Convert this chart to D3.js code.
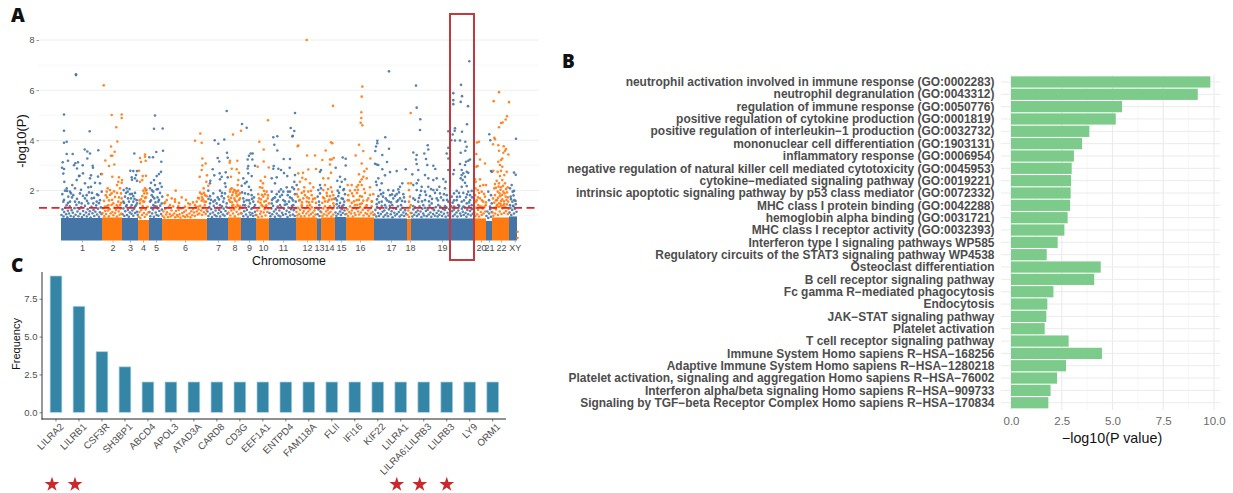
<!DOCTYPE html>
<html>
<head>
<meta charset="utf-8">
<script src="https://cdn.jsdelivr.net/npm/d3@7"></script>
<style>
  html, body { margin: 0; padding: 0; background: #fff; }
  svg { display: block; }
  text { font-family: "Liberation Sans", Arial, sans-serif; }
  .letter { font-family: "Open Sans", sans-serif; font-weight: 800; font-size: 19px; fill: #111; }
</style>
</head>
<body>
<svg id="canvas" width="1233" height="493"></svg>
<script>
// panel A - chromosome layout, genome position runs 0..456
let chrNames = ['1','2','3','4','5','6','7','8','9','10','11','12','13','14','15','16','17','18','19','20','21','22','XY']
let chrStarts = [0,41,61,77,88,101,146,167,180,195,208,235,256,260,274,285,313,346,350,413,425,431,448]
let chrEnds = [41,61,77,88,101,146,167,180,195,208,235,256,260,274,285,313,346,350,413,425,431,448,456]
let chrLabelPos = [21,51.5,69,82,95,124,157,173.5,188,202,222,246,258,268,280,299,330,349,381,420,428,440,453.7]
// top of the solid part of the cloud for each chromosome (thousands of points, too many to read one by one)
let bandTops = [0.9,0.92,0.9,0.82,0.9,0.86,0.9,0.92,0.9,0.88,0.9,0.92,0.88,0.92,0.94,0.92,0.88,0.86,0.88,0.88,0.78,0.92,0.96]
let threshold = 1.3

let bluePoints = [
  [15,6.6],[15,6.63],[3,5.03],[3,4.38],[3,3.9],[5.7,3.94],[5.7,3.45],[11.7,3.45],[1.7,3.12],[7,3.18],[14.3,3.08],[17,3.12],[13,3],[1,2.9],[3,2.85],[21.7,3],[16,2.87],[2.3,2.67],[23.7,3.63],[26.3,3.55],[29,3.47],[26.3,3.27],[28.7,4.36],[37.3,3.6],[31.7,2.98],[32,2.9],[22,2.68],[30,2.6],[37,2.55],[18.5,2.58],
  [1.3,1.85],[4,1.99],[5.7,2.08],[9,1.95],[12.3,1.81],[14,2.08],[15.7,2.41],[18,2.57],[11.3,2.21],[7.3,1.75],[2.3,1.55],[3.3,2.34],[24,2.28],[29,2.48],[30,2.14],[27.3,2.12],[34,2.3],[40,2.65],[39,2.28],[30.7,1.68],[24,1.68],[19,1.88],[25.7,1.81],[37.3,1.81],[39,1.61],[35.7,1.55],[40.7,1.95],[14,1.55],[9,1.55],[20.7,1.48],[27.3,1.48],[32.3,1.48],[5.7,1.41],
  [73.3,3.47],[69.3,2.78],[72.3,2.77],[76,2.77],[75,2.61],[70.7,2.52],[74,2.48],[76,2.38],[71,2.42],[65.7,2.08],[62.7,2.01],[66.7,1.95],[69,1.85],[72.3,1.77],[70,1.68],[64,1.75],[74,1.9],[62.3,1.55],[68,1.55],[72.3,1.55],[75.7,1.61],[70.7,1.41],[65.7,1.41],[74,1.35],
  [94,4.99],[93,4.46],[101.7,4.47],[88.3,3.32],[92,3.32],[95.3,3.53],[102,3.58],[100.3,3.14],[100,2.74],[98,2.65],[95.7,2.57],[93,2.41],[90,2.3],[94,2.21],[99,2.28],[100.7,2.14],[89,2.08],[92.3,1.95],[95.7,2.04],[90.7,1.81],[99,1.9],[101.3,1.75],[93.3,1.68],[89,1.55],[97.3,1.55],[100.7,1.48],[92.3,1.41],[95.7,1.35],
  [165.7,5.17],[153.7,4],[157.3,3.86],[163.3,4.03],[166,3.5],[156.7,3.29],[158.3,3.15],[166.7,3.3],[151.7,2.84],[158.7,2.68],[153.3,2.6],[160.7,2.54],[164.7,2.72],[166.7,2.52],[149.3,2.38],[159,2.44],[164,2.28],[164.7,2.14],[149,2.28],[147.3,1.99],[152.3,1.88],[159,1.99],[156.7,1.72],[164,1.88],[149,1.77],[160.7,1.77],[152.3,1.55],[155.7,1.48],[162.3,1.55],[149,1.48],[159,1.41],[165.7,1.48],
  [185.7,4.5],[181,4.65],[189.7,3.47],[191.7,3.47],[188,3.38],[186.7,3.23],[191.3,3.23],[187.3,2.97],[194,2.98],[186.7,2.87],[190.7,2.57],[187.3,2.68],[182.3,2.48],[185.7,2.34],[180.7,2.18],[184,2.28],[188,2.14],[190,2.01],[187.3,1.85],[190.7,1.81],[182.3,1.68],[185.7,1.61],[192.3,1.55],[189,1.48],[182.3,1.41],[194,1.41],
  [234,5.09],[229.7,4.49],[233.3,4.37],[231.3,4.15],[231.8,4.18],[212.3,4.12],[216.3,4.16],[213.3,3.82],[216.3,3.59],[222.7,3.25],[229,3.25],[228.7,2.9],[212.7,2.97],[212.3,2.86],[217.3,2.86],[220,2.81],[223,2.69],[210.7,2.48],[215.7,2.52],[226.3,2.57],[234,2.61],[233.3,2.34],[235.7,2.21],[214,2.28],[225.7,2.12],[231.3,2.12],[220,2.04],[222.3,1.95],[229,1.95],[210.7,1.95],[215.7,1.85],[226.7,1.81],[234,1.85],[219,1.75],[212.3,1.68],[230.7,1.68],[222.3,1.61],[215.7,1.55],[228,1.55],[234.7,1.55],[225.7,1.45],[219,1.41],[210.7,1.48],[232.3,1.41],
  [260,2.81],[259,2.74],[259,2.21],[256.7,1.75],[258,1.55],[257.3,2.01],[260,2.08],[259,1.88],[258.3,1.41],
  [281.7,3.31],[284.7,3.26],[284.7,2.99],[274.7,2.9],[279,2.54],[276.3,2.38],[284,2.44],[280.7,2.34],[279,2.14],[276.7,1.99],[282.3,2.01],[277.3,1.77],[284,1.85],[274.7,1.68],[280.7,1.68],[279,1.5],[283.3,1.55],[275.7,1.45],[281.3,1.37],
  [328,6.75],[324.3,4.12],[316.3,3.98],[316.3,3.88],[315,3.75],[314.3,3.57],[328,3.66],[321.3,3.41],[314,3.06],[315.7,3.03],[317.3,3.01],[326,3.13],[321.3,2.84],[329,2.73],[335.7,2.77],[344.7,2.84],[324,2.6],[317.3,2.48],[315,2.34],[341.3,2.28],[339,2.14],[320.7,2.28],[315.7,2.21],[327.3,2.01],[332.3,1.99],[337.3,2.04],[319,2.01],[322.3,1.9],[329,1.81],[335.7,1.85],[342.3,1.85],[317.3,1.77],[324.7,1.68],[332.3,1.68],[339,1.68],[320.7,1.55],[328,1.55],[335.7,1.55],[344,1.55],[315.7,1.45],[324,1.41],[331.3,1.41],[340,1.41],
  [355,6.18],[355.7,5.3],[359.3,4.84],[359,4.41],[387.3,4.36],[352.3,3.51],[355.7,3.41],[355,3.23],[355.7,3.05],[363.3,3.47],[366.7,3.8],[367.3,3.63],[365,3.25],[366.3,3.01],[372.3,2.98],[374.3,2.85],[351.3,2.64],[357.3,2.81],[387.3,3.7],[385.7,3.47],[387.3,3.27],[387.3,2.81],[382.3,2.45],[384.7,2.34],[357.3,2.41],[355.7,2.28],[364,2.61],[367.3,2.48],[375.7,2.48],[372.3,2.41],[352.3,2.21],[360.7,2.14],[367.3,2.14],[378.3,2.14],[384,2.08],[355.7,2.01],[364,1.95],[372.3,2.01],[379,1.88],[359,1.81],[369,1.77],[385.7,1.81],[352.3,1.68],[375.7,1.68],[364,1.61],[382.3,1.61],[357.3,1.55],[370.7,1.48],[387.3,1.55],[362.3,1.41],[377.3,1.41],[352.3,1.37],[384,1.37],
  [408.3,7.15],[400,6.21],[392.3,5.88],[401,5.76],[392.3,5.6],[392.3,5.44],[399.7,5.53],[407,5.36],[406,4.64],[394,4.48],[393.7,4.38],[391.7,4.23],[401,4.34],[390.3,4],[394,3.99],[399,3.99],[404.3,3.94],[405.7,3.74],[404.3,3.58],[399.7,3.5],[409,3.23],[407.3,3.18],[405,3.14],[399,3.05],[404,3.01],[400.7,2.81],[405.7,2.74],[393,2.81],[392.3,2.65],[402.3,2.68],[407.3,2.7],[400.7,2.61],[404,2.54],[399.7,2.48],[401.7,2.41],[404,2.3],[405.7,2.17],[400.7,2.14],[410.7,1.98],[407.3,1.95],[395.7,1.98],[393,1.88],[402.3,1.9],[409,1.81],[399,1.75],[390.7,1.75],[405,1.72],[395.7,1.61],[409,1.61],[400.7,1.55],[391.7,1.51],[405.7,1.48],[397.3,1.41],[410.7,1.41],[402.3,1.35],[393,1.35],
  [428.3,4.24],[429.3,4],[430,2.77],[431,2.74],[427.3,1.95],[430,1.81],[428,1.61],[430.7,1.48],[429,1.35],
  [455,4.06],[453,2.71],[454.7,2.62],[450.7,2.21],[449,2.08],[451.7,1.95],[449.7,1.75],[451.3,1.55],[453.3,1.61],[449,1.41],[452.3,1.37]
]

let orangePoints = [
  [42.7,6.19],[50.7,5.01],[60.7,5.03],[60.7,4.89],[55.3,4.52],[56.3,3.95],[50,3.75],[53.7,3.54],[50,3.38],[51.3,3.38],[44.3,3.19],[53.3,3.03],[48,2.97],[41,2.65],[51.3,2.54],[58,2.52],[61,2.41],[60.7,2.3],[57.3,2.34],[56,2.21],[46.7,2.08],[49,2.01],[45.7,1.95],[50.7,1.88],[44.7,1.81],[59,2.08],[60,1.88],[60.7,1.68],[57.3,1.55],[47.3,1.41],[52.3,1.48],[55.7,1.41],[44,1.35],[59,1.41],
  [84,3.43],[84,3.34],[79,3.29],[84.7,3.18],[80,3.13],[78,2.78],[81.7,2.57],[85,2.58],[79,2.34],[81.3,2.41],[84,2.08],[82.3,1.99],[83.3,1.88],[81.3,1.77],[80,1.64],[84.7,1.99],[83.3,1.55],[79,1.48],[81.7,1.37],
  [114.7,1.99],[106.7,1.81],[110.7,1.68],[105.7,1.61],[114,1.55],[109,1.41],[103.3,1.48],[117.3,1.37],[120.7,1.72],[114,1.64],[127.3,1.48],[134,3.98],[139.3,4.27],[140.7,3.9],[141.3,3.27],[144.7,3.07],[141.3,2.99],[140.7,2.81],[138.7,2.54],[146,2.6],[145.3,2.34],[147.3,2.18],[142.7,2.08],[139,1.91],[140.7,1.85],[144,1.81],[145.7,1.77],[138,1.68],[140.7,1.59],[135.7,1.55],[143.3,1.55],[137.3,1.35],[134,1.41],[124,1.35],
  [180,4.38],[172,4.23],[176.3,3.18],[169,3.18],[168.7,3.1],[170.7,2.86],[175.7,2.84],[170,2.54],[178,2.7],[177.3,2.41],[176.7,2.21],[170.7,2.08],[169,1.95],[174,1.99],[177.3,1.99],[179,1.88],[171.3,1.81],[175.7,1.77],[167.3,1.75],[179,1.68],[173.3,1.68],[169,1.55],[175.7,1.55],[172.3,1.41],[177.3,1.37],
  [207,4.8],[198.3,3.94],[202.7,3.63],[202.7,3.15],[196.7,2.94],[207.7,2.91],[199.7,2.38],[204,2.54],[202,2.28],[199,2.12],[201.3,2.1],[205.7,1.95],[197.3,1.85],[204,1.85],[202.3,1.75],[200,1.64],[206.7,1.68],[203.3,1.55],[197.3,1.55],[208,1.48],[200.7,1.41],[204.7,1.37],
  [245.7,8],[237.3,3.79],[236.7,3.76],[246,3.39],[254,3.39],[237.3,2.68],[242,2.7],[247.3,2.83],[255,2.85],[244.7,2.44],[241.3,2.5],[239,2.34],[249,2.28],[252.3,2.12],[243.3,2.12],[237.3,2.04],[240.7,1.9],[247.3,1.95],[235.7,1.85],[244,1.81],[250.7,1.81],[242.3,1.68],[248,1.68],[254,1.68],[238,1.59],[245.7,1.55],[251.3,1.55],[240.7,1.41],[249,1.41],
  [272,5.37],[270,3.92],[271.3,3.88],[264.7,3.59],[272.7,3.29],[270.7,3.23],[269,3.23],[261.3,3.21],[269,3.03],[270,2.7],[262.3,2.48],[267.3,2.48],[264,2.21],[270,2.12],[262.3,2.01],[265.7,1.9],[272.3,1.81],[269,1.77],[263.3,1.68],[270.7,1.64],[266.7,1.55],[261.3,1.5],[272.3,1.48],[269,1.37],
  [301.3,6.14],[300.7,5.74],[300.3,5.12],[300.3,4.89],[299.7,4.7],[301.3,4.6],[298,3.82],[302.3,3.57],[294.7,3.39],[309.3,3.27],[300.7,3.07],[305.7,2.86],[303.3,2.76],[298,2.64],[302.3,2.54],[300.7,2.44],[305.7,2.48],[290.7,2.21],[286.7,2.21],[297.3,2.21],[295.7,2.14],[299,2.34],[300.7,2.21],[289,1.99],[294,2.01],[309,2.12],[304,1.9],[312.3,1.85],[287.3,1.81],[292.3,1.77],[299,1.77],[307.3,1.68],[286.7,1.61],[295.7,1.61],[302.3,1.59],[290.7,1.5],[310.7,1.55],[299,1.45],[305.7,1.41],[294,1.41],
  [349.7,5.09],[347.3,2.28],[350,2.28],[348,2.01],[349,1.75],[348,1.55],[349.7,1.41],
  [418,3.94],[416,3.91],[415.3,3.45],[419,3.23],[424,3.07],[416.7,2.97],[415.3,2.94],[414,2.44],[419,2.44],[414.7,2.34],[422.3,2.21],[419,2.17],[425,2.21],[416.7,2.01],[420.7,1.95],[414,1.81],[424,1.75],[419,1.68],[415.7,1.61],[422.3,1.55],[413.3,1.51],[424.7,1.41],[417.3,1.41],[420.7,1.35],
  [438,5.92],[432.7,5.56],[448,5.52],[446,4.96],[444.7,4.83],[441.7,4.71],[440,4.69],[438,4.52],[433.3,4.1],[434,4.04],[432,3.84],[437.3,3.8],[442.7,3.76],[445,3.65],[444,3.58],[442.3,3.5],[438,3.58],[447.3,3.43],[440,3.21],[437.3,3.14],[441.3,3.27],[439,3.01],[441.3,2.94],[432.3,2.78],[436.7,2.74],[440,2.78],[445.7,2.74],[443.3,2.61],[439,2.57],[435.7,2.38],[441.3,2.41],[434,2.25],[438,2.28],[444,2.28],[433.3,2.08],[440,2.12],[446.7,2.12],[436.7,1.95],[442.3,1.95],[434,1.81],[439,1.77],[444.7,1.75],[436,1.61],[441.3,1.64],[433.3,1.51],[438,1.48],[443.3,1.45],[447.3,1.55],[435.7,1.37],[440,1.37],
  [456.5,0.1],[456.5,0.35]
]

// loose estimate of the speckled zone just above the solid band
let lowBlue = [
  [0.5,1.02],[1.5,1.24],[2.5,0.96],[3.2,1.14],[4.4,1.31],[5.1,1.05],[6.3,0.93],[6.9,1.19],[8,1.08],[8.8,1.36],[9.7,0.98],[10.6,1.21],[11.8,1.11],[12.7,0.95],[13.5,1.29],[14.6,1.03],[15.4,1.42],[16.5,1.16],[17.4,0.97],[18.3,1.26],[19.2,1.07],[20.3,1.33],[21,0.94],[22.1,1.18],[23,1.02],[23.9,1.38],[25,1.12],[25.8,0.96],[26.7,1.25],[27.9,1.05],[28.8,1.17],[29.6,0.92],[30.5,1.34],[31.4,1.09],[32.5,1.22],[33.3,0.98],[34.4,1.15],[35.2,1.4],[36.1,1.04],[37,1.27],[38,0.95],[38.9,1.13],[39.8,1.32],[40.5,1.06],
  [3,1.62],[7,1.5],[11,1.72],[16,1.66],[18,1.52],[22,1.78],[26,1.58],[28,1.92],[33,1.7],[36,1.84],[38,1.49],[10,1.88],[6,1.98],[20,2.02],[31,1.9],
  [61.5,1.05],[62.4,1.28],[63.3,0.98],[64.2,1.17],[65.1,1.36],[66,1.02],[66.9,1.22],[67.8,0.95],[68.7,1.12],[69.6,1.32],[70.5,1.07],[71.4,1.2],[72.3,0.99],[73.2,1.27],[74.1,1.1],[75,1.4],[75.9,1.15],[76.7,1.03],
  [63,1.5],[67,1.68],[71,1.86],[73.5,1.66],[76,1.48],[65,1.9],[68.5,2.05],
  [88.4,1.14],[89.3,0.97],[90.2,1.3],[91.1,1.08],[92,1.24],[92.9,0.95],[93.8,1.37],[94.7,1.12],[95.6,1.02],[96.5,1.28],[97.4,0.99],[98.3,1.18],[99.2,1.39],[100.1,1.06],[100.9,1.23],
  [90,1.6],[92,1.74],[94.5,1.52],[96.5,1.72],[98,1.62],[91,2],[97,2.05],
  [146.5,1.16],[147.4,0.98],[148.3,1.33],[149.2,1.07],[150.1,1.25],[151,0.94],[151.9,1.12],[152.8,1.38],[153.7,1.02],[154.6,1.2],[155.5,0.97],[156.4,1.3],[157.3,1.09],[158.2,1.22],[159.1,0.96],[160,1.14],[160.9,1.36],[161.8,1.04],[162.7,1.27],[163.6,0.99],[164.5,1.18],[165.4,1.34],[166.3,1.07],
  [150,1.62],[154,1.6],[158,1.64],[161,1.9],[163,1.68],[147.5,1.66],
  [180.5,1.08],[181.4,1.3],[182.3,0.97],[183.2,1.17],[184.1,1.4],[185,1.04],[185.9,1.22],[186.8,0.95],[187.7,1.35],[188.6,1.12],[189.5,1.02],[190.4,1.26],[191.3,1.09],[192.2,0.98],[193.1,1.33],[194,1.15],[194.7,1.02],
  [183,1.55],[184,1.88],[188,1.6],[191,1.66],[193,1.72],[181,1.92],
  [208.5,1.1],[209.4,0.97],[210.3,1.28],[211.2,1.05],[212.1,1.38],[213,1.16],[213.9,0.95],[214.8,1.24],[215.7,1.08],[216.6,1.35],[217.5,1],[218.4,1.2],[219.3,0.96],[220.2,1.32],[221.1,1.11],[222,1.02],[222.9,1.27],[223.8,1.42],[224.7,1.06],[225.6,1.19],[226.5,0.94],[227.4,1.31],[228.3,1.13],[229.2,1],[230.1,1.25],[231,1.38],[231.9,1.04],[232.8,1.21],[233.7,0.98],[234.6,1.29],
  [211,1.62],[214,1.72],[217,1.6],[221,1.82],[224,1.56],[227,1.95],[229,1.72],[232,1.6],[218,1.95],[233,2.05],
  [256.5,1.05],[257.5,1.24],[258.5,0.98],[259.5,1.16],
  [274.5,1.12],[275.4,0.99],[276.3,1.3],[277.2,1.07],[278.1,1.37],[279,1.16],[279.9,1.02],[280.8,1.25],[281.7,1.1],[282.6,1.42],[283.5,1.2],[284.4,1.05],
  [276,1.6],[278,1.9],[282,1.66],[283,2.05],
  [313.5,1.04],[314.4,1.22],[315.3,0.96],[316.2,1.33],[317.1,1.1],[318,0.98],[318.9,1.27],[319.8,1.06],[320.7,1.38],[321.6,1.15],[322.5,0.95],[323.4,1.2],[324.3,1.02],[325.2,1.31],[326.1,1.09],[327,0.97],[327.9,1.24],[328.8,1.38],[329.7,1.05],[330.6,1.17],[331.5,0.93],[332.4,1.29],[333.3,1.11],[334.2,1.0],[335.1,1.26],[336,1.06],[336.9,1.36],[337.8,1.14],[338.7,0.96],[339.6,1.23],[340.5,1.02],[341.4,1.3],[342.3,1.12],[343.2,0.98],[344.1,1.21],[345,1.07],
  [316,1.64],[318,1.52],[322,1.75],[326,1.6],[330,1.52],[334,1.78],[337,1.6],[341,1.58],[343,1.72],[320,1.85],[331,1.84],[338,1.92],
  [350.5,1.1],[351.4,0.96],[352.3,1.24],[353.2,1.03],[354.1,1.32],[355,1.13],[355.9,0.98],[356.8,1.2],[357.7,1.05],[358.6,1.36],[359.5,1.16],[360.4,0.94],[361.3,1.27],[362.2,1.08],[363.1,1],[364,1.3],[364.9,1.18],[365.8,0.97],[366.7,1.23],[367.6,1.04],[368.5,1.39],[369.4,1.12],[370.3,0.95],[371.2,1.28],[372.1,1.06],[373,1.21],[373.9,0.99],[374.8,1.33],[375.7,1.1],[376.6,0.96],[377.5,1.19],[378.4,1.03],[379.3,1.35],[380.2,1.14],[381.1,0.98],[382,1.26],[382.9,1.07],[383.8,1.22],[384.7,0.95],[385.6,1.31],[386.5,1.11],[387.4,1],[388.3,1.25],[389.2,1.06],[390.1,1.37],[391,1.17],[391.9,0.97],[392.8,1.23],[393.7,1.04],[394.6,1.3],[395.5,1.12],[396.4,0.96],[397.3,1.2],[398.2,1.38],[399.1,1.08],[400,0.99],[400.9,1.27],[401.8,1.15],[402.7,1.02],[403.6,1.33],[404.5,1.1],[405.4,0.95],[406.3,1.22],[407.2,1.05],[408.1,1.36],[409,1.18],[409.9,1],[410.8,1.25],[411.7,1.07],[412.6,1.29],
  [354,1.62],[358,1.7],[361,1.56],[365,1.82],[368,1.56],[371,1.66],[374,1.9],[377,1.6],[380,1.72],[383,1.85],[386,1.62],[389,1.5],[393,1.6],[396,1.74],[398,1.9],[403,1.6],[406,1.84],[408,1.52],[411,1.72],[360,1.98],[370,2.05],[376,2.02],
  [425.5,0.98],[426.4,1.16],[427.3,0.9],[428.2,1.08],[429.1,1.25],[430,0.95],[430.8,1.14],
  [448.5,1.12],[449.4,1.3],[450.3,1.02],[451.2,1.22],[452.1,1.38],[453,1.08],[453.9,1.27],[454.8,1.45],[455.5,1.15],
  [450,1.65],[452.5,1.8],[454.5,1.58],[453,1.98]
]
let lowOrange = [
  [41.5,1.1],[42.4,1.28],[43.3,0.98],[44.2,1.18],[45.1,1.06],[46,1.36],[46.9,1.2],[47.8,0.97],[48.7,1.25],[49.6,1.08],[50.5,1.42],[51.4,1.14],[52.3,1.01],[53.2,1.3],[54.1,1.1],[55,1.22],[55.9,0.96],[56.8,1.33],[57.7,1.16],[58.6,1.03],[59.5,1.27],[60.4,1.08],
  [43,1.58],[46,1.72],[48,1.6],[51,1.62],[54,1.74],[56,1.9],[58,1.72],[60,1.5],[49,1.82],[53,1.96],
  [77.5,0.95],[78.4,1.14],[79.3,0.9],[80.2,1.22],[81.1,1.02],[82,1.3],[82.9,1.1],[83.8,0.94],[84.7,1.24],[85.6,1.04],[86.5,1.34],[87.4,1.12],
  [78.5,1.6],[82,1.56],[85,1.72],[86,1.88],[84,1.7],[85.5,2.02],
  [101.5,0.98],[102.4,1.16],[103.3,0.92],[104.2,1.26],[105.1,1.04],[106,1.13],[106.9,0.94],[107.8,1.32],[108.7,1.06],[109.6,0.96],[110.5,1.2],[111.4,1.01],[112.3,1.36],[113.2,1.08],[114.1,0.93],[115,1.18],[115.9,1.02],[116.8,0.96],[117.7,1.22],[118.6,1.05],[119.5,0.92],[120.4,1.28],[121.3,1.1],[122.2,0.98],[123.1,1.14],[124,0.94],[124.9,1.2],[125.8,1.03],[126.7,0.96],[127.6,1.3],[128.5,1.08],[129.4,0.93],[130.3,1.17],[131.2,1.01],[132.1,1.26],[133,1.12],[133.9,0.98],[134.8,1.33],[135.7,1.16],[136.6,1.04],[137.5,1.24],[138.4,1.08],[139.3,1.38],[140.2,1.2],[141.1,1.02],[142,1.3],[142.9,1.13],[143.8,1.41],[144.7,1.06],[145.6,1.22],
  [104,1.52],[118,1.5],[125,1.62],[129,1.44],[132,1.52],[137,1.7],[141,1.72],[143,1.9],[145,1.55],[142,1.64],
  [167.5,1.12],[168.4,1.3],[169.3,1],[170.2,1.2],[171.1,1.38],[172,1.08],[172.9,1.24],[173.8,0.97],[174.7,1.33],[175.6,1.15],[176.5,1.42],[177.4,1.05],[178.3,1.25],[179.2,1.36],[179.8,1.1],
  [168,1.62],[170,1.7],[172,1.92],[174,1.6],[176,1.96],[178,1.62],[171,1.52],[177.5,1.82],[173,2.02],[175,1.88],[169.5,2.04],
  [195.5,1.02],[196.4,1.2],[197.3,0.94],[198.2,1.3],[199.1,1.07],[200,1.16],[200.9,0.96],[201.8,1.36],[202.7,1.12],[203.6,1.25],[204.5,1],[205.4,1.4],[206.3,1.14],[207.2,1.28],
  [198,1.68],[199.5,1.5],[201,1.82],[203,1.98],[205,1.58],[207,1.8],
  [235.5,1.14],[236.4,1],[237.3,1.3],[238.2,1.06],[239.1,1.22],[240,0.97],[240.9,1.34],[241.8,1.1],[242.7,1.18],[243.6,0.98],[244.5,1.28],[245.4,1.08],[246.3,1.38],[247.2,1.16],[248.1,1],[249,1.24],[249.9,1.06],[250.8,1.32],[251.7,1.12],[252.6,0.96],[253.5,1.2],[254.4,1.04],[255.3,1.3],
  [237,1.75],[239,1.62],[241,1.52],[243,1.96],[246,1.72],[248,1.52],[250,1.98],[252,1.66],[255,1.5],
  [260.5,1.12],[261.4,0.98],[262.3,1.28],[263.2,1.05],[264.1,1.36],[265,1.16],[265.9,1],[266.8,1.22],[267.7,1.08],[268.6,1.34],[269.5,1.14],[270.4,0.96],[271.3,1.26],[272.2,1.04],[273.1,1.38],
  [262,1.72],[264,1.56],[266,1.78],[268,1.62],[271,1.94],[273,1.66],[267,2.05],
  [285.5,1.06],[286.4,1.24],[287.3,0.98],[288.2,1.14],[289.1,1.36],[290,1.08],[290.9,1.2],[291.8,0.96],[292.7,1.3],[293.6,1.1],[294.5,1.02],[295.4,1.26],[296.3,1.42],[297.2,1.16],[298.1,1.04],[299,1.33],[299.9,1.12],[300.8,1.48],[301.7,1.22],[302.6,1],[303.5,1.3],[304.4,1.1],[305.3,1.38],[306.2,1.06],[307.1,1.2],[308,0.98],[308.9,1.28],[309.8,1.08],[310.7,1.36],[311.6,1.14],[312.5,1.02],
  [288,1.6],[291,1.88],[293,1.56],[296,1.9],[298,1.62],[301,1.75],[303,2.05],[306,1.6],[309,1.82],[311,1.56],[297,2.02],
  [346.5,1.02],[347.3,1.2],[348.1,0.94],[348.9,1.32],[349.6,1.1],
  [413.5,1.12],[414.4,0.98],[415.3,1.3],[416.2,1.05],[417.1,1.22],[418,0.96],[418.9,1.36],[419.8,1.14],[420.7,1.02],[421.6,1.27],[422.5,1.08],[423.4,1.34],[424.3,1.16],
  [415,1.55],[417,1.72],[418,1.9],[421,1.6],[423,1.86],[425,1.52],[414.5,2.08],
  [431.5,1.12],[432.4,0.99],[433.3,1.3],[434.2,1.08],[435.1,1.24],[436,1.42],[436.9,1.02],[437.8,1.34],[438.7,1.16],[439.6,1.46],[440.5,1.06],[441.4,1.28],[442.3,1.4],[443.2,1.1],[444.1,1.32],[445,1.18],[445.9,1.44],[446.8,1.06],[447.6,1.26],
  [432,1.68],[435,1.6],[437,1.7],[438.5,1.88],[440,1.58],[441,1.82],[443,1.56],[443.5,1.88],[445.5,1.62],[446,1.92],[435,2.1],[437.5,2.15],[442,2.18],[439.5,2.02],[445,2.05],[447,1.72]
]

// panel B
let termNames = [
  'neutrophil activation involved in immune response (GO:0002283)',
  'neutrophil degranulation (GO:0043312)',
  'regulation of immune response (GO:0050776)',
  'positive regulation of cytokine production (GO:0001819)',
  'positive regulation of interleukin−1 production (GO:0032732)',
  'mononuclear cell differentiation (GO:1903131)',
  'inflammatory response (GO:0006954)',
  'negative regulation of natural killer cell mediated cytotoxicity (GO:0045953)',
  'cytokine−mediated signaling pathway (GO:0019221)',
  'intrinsic apoptotic signaling pathway by p53 class mediator (GO:0072332)',
  'MHC class I protein binding (GO:0042288)',
  'hemoglobin alpha binding (GO:0031721)',
  'MHC class I receptor activity (GO:0032393)',
  'Interferon type I signaling pathways WP585',
  'Regulatory circuits of the STAT3 signaling pathway WP4538',
  'Osteoclast differentiation',
  'B cell receptor signaling pathway',
  'Fc gamma R−mediated phagocytosis',
  'Endocytosis',
  'JAK−STAT signaling pathway',
  'Platelet activation',
  'T cell receptor signaling pathway',
  'Immune System Homo sapiens R−HSA−168256',
  'Adaptive Immune System Homo sapiens R−HSA−1280218',
  'Platelet activation, signaling and aggregation Homo sapiens R−HSA−76002',
  'Interferon alpha/beta signaling Homo sapiens R−HSA−909733',
  'Signaling by TGF−beta Receptor Complex Homo sapiens R−HSA−170834'
]
let termValues = [9.82,9.2,5.47,5.16,3.86,3.5,3.1,2.99,2.96,2.94,2.91,2.79,2.63,2.3,1.76,4.42,4.1,2.09,1.79,1.74,1.66,2.84,4.48,2.71,2.27,1.95,1.84]

// panel C
let geneNames = ['LILRA2','LILRB1','CSF3R','SH3BP1','ABCD4','APOL3','ATAD3A','CARD8','CD3G','EEF1A1','ENTPD4','FAM118A','FLII','IFI16','KIF22','LILRA1','LILRA6;LILRB3','LILRB3','LY9','ORM1']
let geneFreq = [9,7,4,3,2,2,2,2,2,2,2,2,2,2,2,2,2,2,2,2]
let starredGenes = ['LILRA2','LILRB1','LILRA1','LILRA6;LILRB3','LILRB3']

let canvas = d3.select('#canvas')
let blue = '#4575a6'
let orange = '#ff7a10'
let tickGrey = '#4d4d4d'

let drawManhattan = () => {
    let xScale = d3.scaleLinear().domain([0, 456]).range([61, 517])
    let yScale = d3.scaleLinear().domain([0, 8]).range([240.5, 40])
    let g = canvas.append('g')

    // gridlines, lighter one every odd value
    g.selectAll('.grid')
        .data(d3.range(1, 9))
        .enter()
        .append('line')
        .attr('x1', 39)
        .attr('x2', 539)
        .attr('y1', (d) => yScale(d))
        .attr('y2', (d) => yScale(d))
        .attr('stroke', (d) => d % 2 === 0 ? '#eeeeee' : '#f5f5f5')
        .attr('stroke-width', (d) => d % 2 === 0 ? 1 : 0.8)

    // the solid part near the bottom is drawn as a band, too many points to read
    g.selectAll('.band')
        .data(chrNames)
        .enter()
        .append('rect')
        .attr('x', (d, i) => xScale(chrStarts[i]))
        .attr('width', (d, i) => xScale(chrEnds[i]) - xScale(chrStarts[i]))
        .attr('y', (d, i) => yScale(bandTops[i]))
        .attr('height', (d, i) => yScale(0) - yScale(bandTops[i]))
        .attr('fill', (d, i) => i % 2 === 0 ? blue : orange)

    let addPoints = (points, color) => {
        g.append('g')
            .selectAll('circle')
            .data(points)
            .enter()
            .append('circle')
            .attr('cx', (d) => xScale(d[0]))
            .attr('cy', (d) => yScale(d[1]))
            .attr('r', 1.3)
            .attr('fill', color)
            .attr('fill-opacity', 0.9)
    }
    addPoints(lowBlue, blue)
    addPoints(lowOrange, orange)
    addPoints(bluePoints, blue)
    addPoints(orangePoints, orange)

    // significance line
    g.append('line')
        .attr('x1', 39)
        .attr('x2', 539)
        .attr('y1', yScale(threshold))
        .attr('y2', yScale(threshold))
        .attr('stroke', '#e0262c')
        .attr('stroke-width', 1.6)
        .attr('stroke-dasharray', '8 4.5')

    // axes
    let yAxis = d3.axisLeft(yScale).tickValues([2, 4, 6, 8]).tickSize(2.5).tickPadding(2)
    let yG = g.append('g').attr('transform', 'translate(39,0)').call(yAxis)
    yG.select('.domain').remove()
    yG.selectAll('line').attr('stroke', '#555').attr('stroke-width', 0.6)
    yG.selectAll('text').attr('fill', tickGrey).style('font-size', '9px').style('font-family', '"Liberation Sans"')

    let xG = g.append('g').attr('transform', 'translate(0,240.5)')
        .call(d3.axisBottom(xScale)
            .tickValues(chrLabelPos)
            .tickFormat((d, i) => chrNames[i])
            .tickSize(2)
            .tickPadding(2))
    xG.select('.domain').remove()
    xG.selectAll('line').attr('stroke', '#777').attr('stroke-width', 0.6)
    xG.selectAll('text').attr('fill', tickGrey).style('font-size', '9px').style('font-family', '"Liberation Sans"')

    g.append('text')
        .text('-log10(P)')
        .attr('transform', 'translate(26,141) rotate(-90)')
        .attr('text-anchor', 'middle')
        .attr('font-size', 13)
        .attr('fill', '#111')

    g.append('text')
        .text('Chromosome')
        .attr('x', 289)
        .attr('y', 265)
        .attr('text-anchor', 'middle')
        .attr('font-size', 12.3)
        .attr('fill', '#111')

    // highlight box around chr19 locus
    g.append('rect')
        .attr('x', xScale(389))
        .attr('y', 14)
        .attr('width', xScale(413) - xScale(389))
        .attr('height', 246)
        .attr('fill', 'none')
        .attr('stroke', '#c5383e')
        .attr('stroke-width', 2)
}

let drawEnrichment = () => {
    let xScale = d3.scaleLinear().domain([0, 10]).range([1011, 1214])
    let yScale = d3.scaleBand().domain(termNames).range([75.8, 408.9]).paddingInner(0.09).paddingOuter(0.045)
    let g = canvas.append('g')

    g.selectAll('.vgrid')
        .data(d3.range(0, 10.1, 1.25))
        .enter()
        .append('line')
        .attr('x1', (d) => xScale(d))
        .attr('x2', (d) => xScale(d))
        .attr('y1', 75)
        .attr('y2', 410)
        .attr('stroke', (d) => d % 2.5 === 0 ? '#ebebeb' : '#f4f4f4')
        .attr('stroke-width', (d) => d % 2.5 === 0 ? 1.1 : 0.7)

    g.selectAll('.hgrid')
        .data(termNames)
        .enter()
        .append('line')
        .attr('x1', 1001)
        .attr('x2', 1220)
        .attr('y1', (d) => yScale(d) + yScale.bandwidth() / 2)
        .attr('y2', (d) => yScale(d) + yScale.bandwidth() / 2)
        .attr('stroke', '#ebebeb')
        .attr('stroke-width', 1)

    g.selectAll('.bar')
        .data(termNames)
        .enter()
        .append('rect')
        .attr('x', xScale(0))
        .attr('y', (d) => yScale(d))
        .attr('width', (d, i) => xScale(termValues[i]) - xScale(0))
        .attr('height', yScale.bandwidth())
        .attr('fill', '#78c987')
        .attr('fill-opacity', 0.97)

    g.selectAll('.term')
        .data(termNames)
        .enter()
        .append('text')
        .text((d) => d)
        .attr('x', 994.5)
        .attr('y', (d) => yScale(d) + yScale.bandwidth() / 2)
        .attr('dy', '0.35em')
        .attr('text-anchor', 'end')
        .attr('font-size', 11.95)
        .attr('font-weight', 700)
        .attr('fill', '#4d4d4d')

    let xG = g.append('g').attr('transform', 'translate(0,410)')
        .call(d3.axisBottom(xScale)
            .tickValues([0, 2.5, 5, 7.5, 10])
            .tickFormat(d3.format('.1f'))
            .tickSize(0)
            .tickPadding(7))
    xG.select('.domain').remove()
    xG.selectAll('text').attr('fill', '#6a6a6a').style('font-size', '11.5px').style('font-family', '"Liberation Sans"')

    g.append('text')
        .text('−log10(P value)')
        .attr('x', 1112)
        .attr('y', 443)
        .attr('text-anchor', 'middle')
        .attr('font-size', 14.3)
        .attr('fill', '#111')
}

let drawFrequency = () => {
    let xScale = d3.scaleBand().domain(geneNames).range([44.5, 504.2]).paddingInner(0.49).paddingOuter(0.245)
    let yScale = d3.scaleLinear().domain([0, 9]).range([412.3, 276])
    let g = canvas.append('g')

    g.selectAll('.bar')
        .data(geneNames)
        .enter()
        .append('rect')
        .attr('x', (d) => xScale(d))
        .attr('y', (d, i) => yScale(geneFreq[i]))
        .attr('width', xScale.bandwidth())
        .attr('height', (d, i) => yScale(0) - yScale(geneFreq[i]))
        .attr('fill', '#3585a6')
        .attr('stroke', '#a9d0dd')
        .attr('stroke-width', 0.7)

    let yG = g.append('g').attr('transform', 'translate(42,0)')
        .call(d3.axisLeft(yScale)
            .tickValues([0, 2.5, 5, 7.5])
            .tickFormat(d3.format('.1f'))
            .tickSize(2.5)
            .tickPadding(2))
    yG.select('.domain').remove()
    yG.selectAll('line').attr('stroke', '#444').attr('stroke-width', 0.7)
    yG.selectAll('text').attr('fill', tickGrey).style('font-size', '9.5px').style('font-family', '"Liberation Sans"')

    let xG = g.append('g').attr('transform', 'translate(0,419)')
        .call(d3.axisBottom(xScale).tickSize(2.5).tickPadding(2))
    xG.select('.domain').remove()
    xG.selectAll('line').attr('stroke', '#444').attr('stroke-width', 0.7)
    xG.selectAll('text')
        .attr('fill', tickGrey)
        .style('font-size', '9.8px')
        .style('font-family', '"Liberation Sans"')
        .attr('text-anchor', 'end')
        .attr('dy', '0.3em')
        .attr('transform', 'translate(3,3) rotate(-45)')

    // axis lines
    g.append('line').attr('x1', 42).attr('x2', 42).attr('y1', 272).attr('y2', 419.5).attr('stroke', '#333').attr('stroke-width', 1)
    g.append('line').attr('x1', 41.5).attr('x2', 506).attr('y1', 419).attr('y2', 419).attr('stroke', '#222').attr('stroke-width', 1)

    g.append('text')
        .text('Frequency')
        .attr('transform', 'translate(20,344) rotate(-90)')
        .attr('text-anchor', 'middle')
        .attr('font-size', 11)
        .attr('fill', '#111')

    // stars sit a bit left of the gene labels they point at
    g.selectAll('.star')
        .data(starredGenes)
        .enter()
        .append('path')
        .attr('d', d3.symbol().type(d3.symbolStar).size(68))
        .attr('transform', (d) => 'translate(' + (xScale(d) + xScale.bandwidth() / 2 - (d === 'LILRB3' ? 0 : 4)) + ',484.5)')
        .attr('fill', '#c9282d')
}

drawManhattan()
drawEnrichment()
drawFrequency()

canvas.append('text').attr('class', 'letter').text('A').attr('x', 11).attr('y', 22)
canvas.append('text').attr('class', 'letter').text('B').attr('x', 562).attr('y', 68)
canvas.append('text').attr('class', 'letter').text('C').attr('x', 11).attr('y', 272)
</script>
</body>
</html>
